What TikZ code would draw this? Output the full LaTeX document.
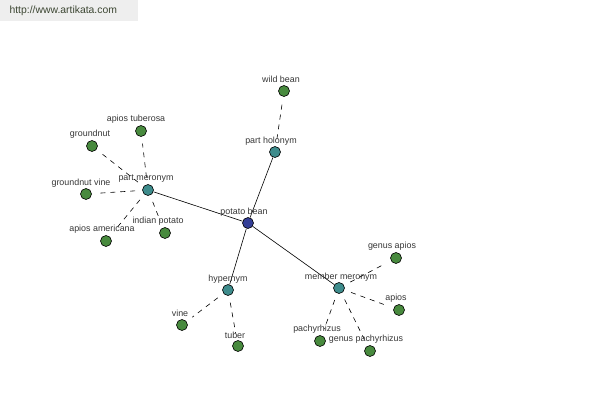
\documentclass[tikz,border=0pt]{standalone}
\usepackage{fontspec}
\setmainfont{Liberation Sans}
\definecolor{gnode}{RGB}{72,138,62}
\definecolor{tnode}{RGB}{62,140,140}
\definecolor{bnode}{RGB}{52,62,150}
\definecolor{lbl}{RGB}{55,55,55}
\definecolor{wm}{RGB}{238,238,238}
\definecolor{wmtext}{RGB}{60,70,50}
\begin{document}
\begin{tikzpicture}[x=1pt,y=-1pt,
  dot/.style={circle,draw=black,line width=0.6pt,inner sep=0pt,minimum size=11pt},
  leaf/.style={dot,fill=gnode},
  rel/.style={dot,fill=tnode},
  root/.style={dot,fill=bnode},
  lab/.style={font=\fontsize{8.9}{10}\selectfont,text=lbl,inner sep=0.5pt},
  solidedge/.style={draw=black,line width=0.6pt},
  dashedge/.style={draw=black,line width=0.6pt,dash pattern=on 5pt off 5pt,shorten >=7pt,shorten <=7pt}]
\useasboundingbox (0,0) rectangle (600,400);
\fill[white] (0,0) rectangle (600,400);
\fill[wm] (0,0) rectangle (138,21);
\node[font=\fontsize{10.4}{12}\selectfont,text=wmtext,anchor=west] (wmk) at (6,11) {http://www.artikata.com};
% nodes
\node[root] (pb) at (248,223) {};
\node[rel] (ph) at (275,152) {};
\node[leaf] (wb) at (284,91) {};
\node[rel] (pm) at (148,190) {};
\node[leaf] (at) at (141,131) {};
\node[leaf] (gn) at (92,146) {};
\node[leaf] (gv) at (86,194) {};
\node[leaf] (aa) at (106,241) {};
\node[leaf] (ip) at (165,233) {};
\node[rel] (hy) at (228,290) {};
\node[leaf] (vi) at (182,325) {};
\node[leaf] (tu) at (238,346) {};
\node[rel] (mm) at (339,288) {};
\node[leaf] (ga) at (396,258) {};
\node[leaf] (ap) at (399,310) {};
\node[leaf] (pa) at (320,341) {};
\node[leaf] (gp) at (370,351) {};
% edges
\draw[solidedge] (pb) -- (ph);
\draw[solidedge] (pb) -- (pm);
\draw[solidedge] (pb) -- (hy);
\draw[solidedge] (pb) -- (mm);
\draw[dashedge] (ph) -- (wb);
\draw[dashedge] (pm) -- (at);
\draw[dashedge] (pm) -- (gn);
\draw[dashedge] (pm) -- (gv);
\draw[dashedge] (pm) -- (aa);
\draw[dashedge] (pm) -- (ip);
\draw[dashedge] (hy) -- (vi);
\draw[dashedge] (hy) -- (tu);
\draw[dashedge] (mm) -- (ga);
\draw[dashedge] (mm) -- (ap);
\draw[dashedge] (mm) -- (pa);
\draw[dashedge] (mm) -- (gp);
% labels
\node[lab] (lpb) at (244,212) {potato bean};
\node[lab] (lph) at (271,141) {part holonym};
\node[lab] (lwb) at (281,79) {wild bean};
\node[lab] (lpm) at (146,179) {part meronym};
\node[lab] (lat) at (136,119) {apios tuberosa};
\node[lab] (lgn) at (90,134) {groundnut};
\node[lab] (lgv) at (81,183) {groundnut vine};
\node[lab] (laa) at (102,229) {apios americana};
\node[lab] (lip) at (158,221) {indian potato};
\node[lab] (lhy) at (228,279) {hypernym};
\node[lab] (lvi) at (180,313) {vine};
\node[lab] (ltu) at (235,335) {tuber};
\node[lab] (lmm) at (341,277) {member meronym};
\node[lab] (lga) at (392,246) {genus apios};
\node[lab] (lap) at (396,298) {apios};
\node[lab] (lpa) at (317,329) {pachyrhizus};
\node[lab] (lgp) at (366,339) {genus pachyrhizus};
\end{tikzpicture}
\end{document}
